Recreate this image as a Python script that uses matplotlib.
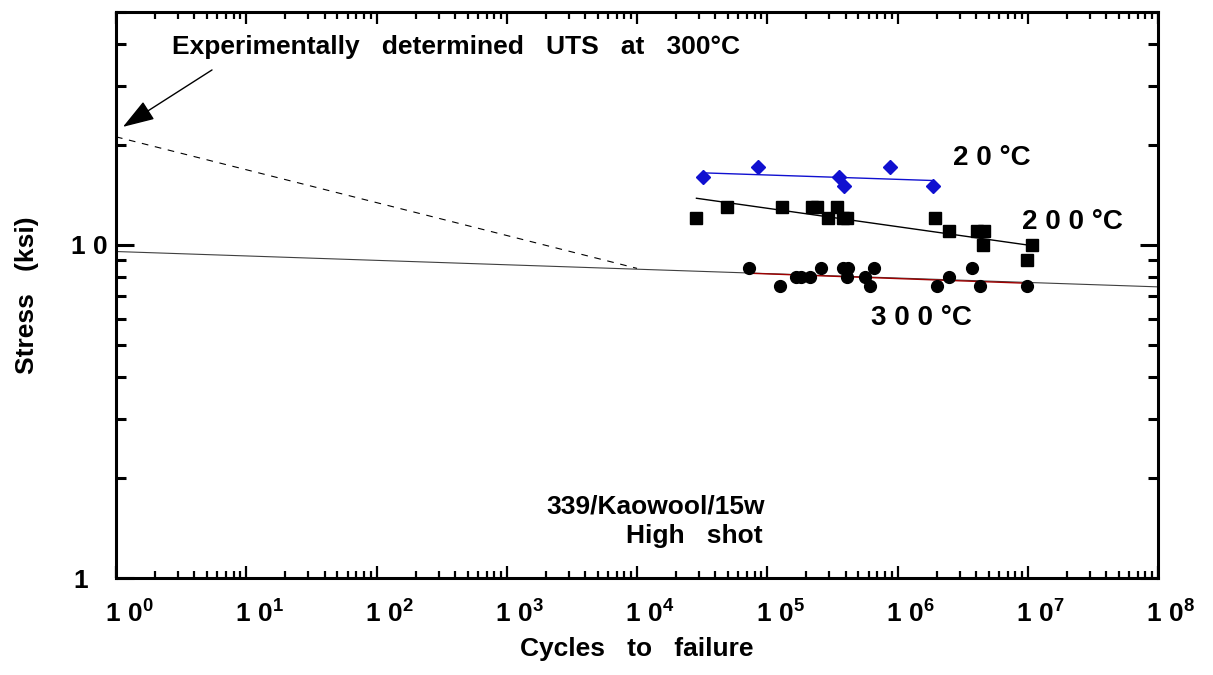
import matplotlib
matplotlib.use('Agg')
import matplotlib.pyplot as plt
import matplotlib.transforms as mtransforms
from matplotlib.ticker import LogLocator, NullFormatter

plt.rcParams['font.family'] = ['Liberation Sans', 'DejaVu Sans']
plt.rcParams['font.weight'] = 'bold'
plt.rcParams['mathtext.fontset'] = 'custom'
plt.rcParams['mathtext.rm'] = 'Liberation Sans:bold'
plt.rcParams['mathtext.bf'] = 'Liberation Sans:bold'
plt.rcParams['mathtext.it'] = 'Liberation Sans:bold'

# 20 C data (blue diamonds)
cycles_20 = [32100, 85500, 355000, 391000, 883000, 1860000]
stress_20 = [16.0, 17.1, 16.0, 15.0, 17.1, 15.0]

# 200 C data (squares)
cycles_200 = [28600, 49500, 130000, 220000, 241000, 292000, 342000, 381000,
              413000, 1940000, 2490000, 4060000, 4610000, 4530000, 10700000, 9950000]
stress_200 = [12.0, 13.0, 13.0, 13.0, 13.0, 12.0, 13.0, 12.0,
              12.0, 12.0, 11.0, 11.0, 11.0, 10.0, 10.0, 9.0]

# 300 C data (circles)
cycles_300 = [72400, 125000, 165000, 181000, 213000, 257000, 382000, 417000, 412000,
              563000, 615000, 664000, 2020000, 2470000, 3750000, 4300000, 9820000]
stress_300 = [8.5, 7.5, 8.0, 8.0, 8.0, 8.5, 8.5, 8.5, 8.0,
              8.0, 7.5, 8.5, 7.5, 8.0, 8.5, 7.5, 7.5]

# fit lines (end points)
fit20_x = [32100, 1860000]
fit20_y = [16.45, 15.6]
fit200_x = [28600, 10700000]
fit200_y = [13.8, 9.95]
fit300_x = [72400, 9820000]
fit300_y = [8.22, 7.67]
long_x = [1, 1e8]
long_y = [9.55, 7.48]
uts_x = [1, 1e4]
uts_y = [21.1, 8.5]

xticks = [10.0 ** k for k in range(9)]
xticklabels = [r'$\mathregular{1\ 0^{%d}}$' % k for k in range(9)]

fig = plt.figure(figsize=(12.13, 6.75), dpi=100)
ax = fig.add_axes([116 / 1213, 1 - 578 / 675, 1042 / 1213, 566 / 675])

ax.plot(long_x, long_y, color='#404040', lw=0.8)
ax.plot(uts_x, uts_y, color='black', lw=0.8, dashes=(6, 6))
ax.plot(fit20_x, fit20_y, color='#1010d0', lw=1.0)
ax.plot(fit200_x, fit200_y, color='black', lw=1.0)
ax.plot(fit300_x, fit300_y, color='#a00000', lw=1.0)

ax.plot(cycles_20, stress_20, 'D', color='#1010d0', ms=7, ls='none')
ax.plot(cycles_200, stress_200, 's', color='black', ms=8, ls='none')
ax.plot(cycles_300, stress_300, 'o', color='black', ms=8.5, ls='none')

ax.set_xscale('log')
ax.set_yscale('log')
ax.set_xlim(1, 1e8)
ax.set_ylim(1, 50)

ax.set_xticks(xticks)
ax.set_xticklabels(xticklabels)
ax.xaxis.set_minor_locator(LogLocator(base=10, subs=range(2, 10), numticks=20))
ax.xaxis.set_minor_formatter(NullFormatter())
ax.set_yticks([1, 10])
ax.set_yticklabels(['1', '1 0'])
ax.yaxis.set_minor_locator(LogLocator(base=10, subs=range(2, 10), numticks=20))
ax.yaxis.set_minor_formatter(NullFormatter())

for s in ax.spines.values():
    s.set_linewidth(2.2)
ax.tick_params(axis='both', which='both', direction='in', top=True, right=True,
               labelsize=19)
ax.tick_params(axis='x', which='major', length=8.5, width=1.6, pad=16)
ax.tick_params(axis='x', which='minor', length=5, width=1.6)
ax.tick_params(axis='y', which='major', length=13, width=2.2, pad=6)
ax.tick_params(axis='y', which='minor', length=7, width=2.2)

shift = mtransforms.ScaledTranslation(13 / 100, 0, fig.dpi_scale_trans)
for lab in ax.get_xticklabels():
    lab.set_transform(lab.get_transform() + shift)
ylabs = ax.get_yticklabels()
ylabs[0].set_transform(ylabs[0].get_transform()
                       + mtransforms.ScaledTranslation(-20 / 100, 0, fig.dpi_scale_trans))

ax.set_xlabel('Cycles   to   failure', fontsize=19, fontweight='bold')
ax.xaxis.set_label_coords(0.5, -0.104)
ax.set_ylabel('Stress   (ksi)', fontsize=19, fontweight='bold')
ax.yaxis.set_label_coords(-0.074, 0.5)

ax.text(0.0537, 0.938, 'Experimentally   determined   UTS   at   300°C',
        transform=ax.transAxes, fontsize=19, ha='left', va='center')
ax.annotate('', xy=(1.13, 22.6), xytext=(5.46, 33.5),
            arrowprops=dict(arrowstyle='-|>,head_length=0.9,head_width=0.3',
                            color='black', lw=1, mutation_scale=22,
                            shrinkA=0, shrinkB=0))

ax.text((992 - 116) / 1042, (578 - 158) / 566, '2 0 °C', transform=ax.transAxes,
        fontsize=20, ha='center', va='center')
ax.text((1072 - 116) / 1042, (578 - 222) / 566, '2 0 0 °C', transform=ax.transAxes,
        fontsize=20, ha='center', va='center')
ax.text((921 - 116) / 1042, (578 - 318) / 566, '3 0 0 °C', transform=ax.transAxes,
        fontsize=20, ha='center', va='center')
ax.text((765 - 116) / 1042, (578 - 506) / 566, '339/Kaowool/15w', transform=ax.transAxes,
        fontsize=19, ha='right', va='center')
ax.text((763 - 116) / 1042, (578 - 536) / 566, 'High   shot', transform=ax.transAxes,
        fontsize=19, ha='right', va='center')

fig.savefig('out.png', dpi=100)
